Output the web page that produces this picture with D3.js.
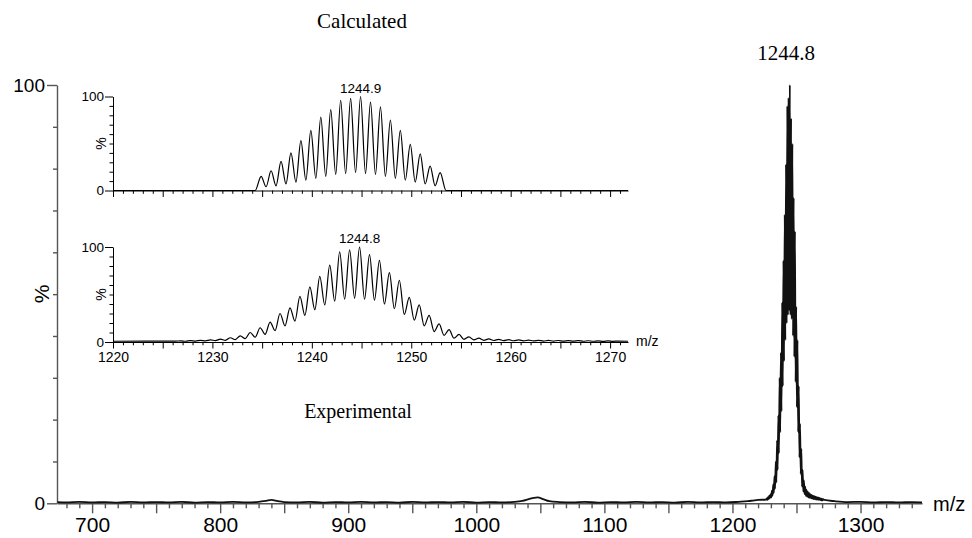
<!DOCTYPE html>
<html>
<head>
<meta charset="utf-8">
<script src="https://cdn.jsdelivr.net/npm/d3@7"></script>
<style>
  body { margin: 0; background: #fff; }
  svg { display: block; }
  .sans { font-family: "Liberation Sans", Arial, sans-serif; }
  .serif { font-family: "Liberation Serif", "Times New Roman", serif; }
</style>
</head>
<body>
<div id="chart"></div>
<script>
// calculated isotope pattern (inset, top)
const calcPeakMz = [1234.9, 1235.9, 1236.9, 1237.9, 1238.9, 1239.9, 1240.9, 1241.9, 1242.9, 1243.9,
  1244.9, 1245.9, 1246.9, 1247.9, 1248.9, 1249.9, 1250.9, 1251.9, 1252.9];
const calcPeakPct = [15, 21, 31, 40, 53, 64, 78, 86, 96, 98, 100, 94, 89, 75, 64, 49, 39, 26, 19];
const calcValleyMz = [1220, 1234.3, 1235.4, 1236.4, 1237.4, 1238.4, 1239.4, 1240.4, 1241.4, 1242.4, 1243.4,
  1244.4, 1245.4, 1246.4, 1247.4, 1248.4, 1249.4, 1250.4, 1251.4, 1252.4, 1253.5, 1271.8];
const calcValleyPct = [0, 0, 4, 5, 7, 9, 11, 13, 15, 17, 18, 19, 18, 17, 15, 13, 11, 9, 7, 5, 0, 0];

// experimental isotope pattern (inset, bottom + main peak)
const expPeakMz = [1226.8, 1227.8, 1228.8, 1229.8, 1230.8, 1231.8, 1232.8, 1233.8, 1234.8, 1235.8,
  1236.8, 1237.8, 1238.8, 1239.8, 1240.8, 1241.8, 1242.8, 1243.8, 1244.8, 1245.8,
  1246.8, 1247.8, 1248.8, 1249.8, 1250.8, 1251.8, 1252.8, 1253.8, 1254.8, 1255.8,
  1256.8, 1257.8, 1258.8, 1259.8, 1260.8, 1261.8, 1262.8, 1263.8, 1264.8, 1265.8,
  1266.8, 1267.8, 1268.8, 1269.8, 1270.8];
const expPeakPct = [1.2, 1.5, 1.8, 2.2, 3, 4.5, 6.5, 10, 15, 21,
  30, 36, 48, 58, 69, 81, 95, 97, 100, 92,
  86, 73, 65, 47, 39, 28, 19, 13, 8, 5.5,
  4, 3.2, 2.8, 2.5, 2.2, 2, 1.8, 1.7, 1.6, 1.5,
  1.4, 1.3, 1.2, 1.1, 1.0];
const expValleyMz = [1220, 1226.3, 1227.3, 1228.3, 1229.3, 1230.3, 1231.3, 1232.3, 1233.3, 1234.3,
  1235.3, 1236.3, 1237.3, 1238.3, 1239.3, 1240.3, 1241.3, 1242.3, 1243.3, 1244.3,
  1245.3, 1246.3, 1247.3, 1248.3, 1249.3, 1250.3, 1251.3, 1252.3, 1253.3, 1254.3,
  1255.3, 1256.3, 1257.3, 1258.3, 1259.3, 1260.3, 1261.3, 1262.3, 1263.3, 1264.3,
  1265.3, 1266.3, 1267.3, 1268.3, 1269.3, 1270.3, 1271.8];
const expValleyPct = [0.8, 0.9, 0.8, 1.0, 1.2, 1.4, 1.8, 2.5, 3.5, 5,
  8, 12, 17, 22, 28, 34, 39, 43, 45, 46,
  45, 44, 40, 35, 29, 23, 17, 11, 7, 4,
  2.8, 2.2, 1.8, 1.6, 1.4, 1.3, 1.2, 1.1, 1.0, 1.0,
  0.9, 0.9, 0.8, 0.8, 0.7, 0.7, 0.8];

// main spectrum baseline outside the isotope cluster
const baseMz = [673, 680, 690, 700, 710, 720, 730, 740, 750, 760,
  770, 780, 790, 800, 810, 820, 830, 836, 840, 845,
  850, 860, 870, 880, 890, 900, 910, 920, 930, 940,
  950, 960, 970, 980, 990, 1000, 1010, 1020, 1030, 1036,
  1041, 1045, 1048, 1052, 1057, 1065, 1075, 1085, 1095, 1105,
  1115, 1125, 1135, 1145, 1155, 1165, 1175, 1185, 1195, 1205,
  1212, 1217];
const basePct = [0.3, 0.2, 0.35, 0.2, 0.3, 0.15, 0.35, 0.2, 0.3, 0.2,
  0.35, 0.15, 0.3, 0.2, 0.35, 0.2, 0.35, 0.6, 0.8, 0.5,
  0.3, 0.2, 0.35, 0.15, 0.3, 0.2, 0.35, 0.2, 0.3, 0.15,
  0.35, 0.2, 0.3, 0.2, 0.35, 0.15, 0.3, 0.2, 0.35, 0.6,
  1.0, 1.3, 1.4, 1.0, 0.5, 0.3, 0.2, 0.35, 0.15, 0.3,
  0.2, 0.35, 0.2, 0.3, 0.15, 0.35, 0.2, 0.3, 0.2, 0.35,
  0.5, 0.7];
const baseRightMz = [1280, 1290, 1300, 1310, 1320, 1330, 1340, 1348];
const baseRightPct = [0.5, 0.3, 0.35, 0.2, 0.3, 0.2, 0.3, 0.2];

// tick labels
const mainXLabels = [700, 800, 900, 1000, 1100, 1200, 1300];
const mainYLabels = [0, 100];
const insetXLabels = [1220, 1230, 1240, 1250, 1260, 1270];
const insetYLabels = [0, 100];

function zipPoints(mz, pct) {
  return mz.map((m, i) => ({ mz: m, pct: pct[i] }));
}
function profile(peakMz, peakPct, valleyMz, valleyPct) {
  return zipPoints(peakMz, peakPct).concat(zipPoints(valleyMz, valleyPct))
    .sort((a, b) => a.mz - b.mz);
}

const calcData = profile(calcPeakMz, calcPeakPct, calcValleyMz, calcValleyPct);
const expData = profile(expPeakMz, expPeakPct, expValleyMz, expValleyPct);
const mainData = zipPoints(baseMz, basePct).concat(expData, zipPoints(baseRightMz, baseRightPct));

const svg = d3.select("#chart").append("svg")
  .attr("width", 972)
  .attr("height", 538);

// scales
const mainX = d3.scaleLinear().domain([672.6, 1348]).range([57, 922]);
const mainY = d3.scaleLinear().domain([0, 100]).range([503.3, 85]);
const insetX = d3.scaleLinear().domain([1220, 1271.8]).range([113, 628]);
const calcY = d3.scaleLinear().domain([0, 100]).range([190.5, 96.5]);
const expY = d3.scaleLinear().domain([0, 100]).range([342, 247]);

// ---- main axes ----
const mainXAxis = svg.append("g")
  .attr("class", "sans")
  .attr("transform", "translate(0," + mainY(0) + ")")
  .call(d3.axisBottom(mainX)
    .tickValues(d3.range(680, 1341, 10))
    .tickSize(10).tickSizeOuter(0).tickPadding(4)
    .tickFormat(d => mainXLabels.includes(d) ? d : ""));
mainXAxis.selectAll(".tick line").attr("y2", d => d % 50 === 0 ? 10 : 5);

const mainYAxis = svg.append("g")
  .attr("class", "sans")
  .attr("transform", "translate(" + mainX.range()[0] + ",0)")
  .call(d3.axisLeft(mainY)
    .tickValues(d3.range(0, 101, 10))
    .tickSize(10).tickSizeOuter(0).tickPadding(2)
    .tickFormat(d => mainYLabels.includes(d) ? d : ""));
mainYAxis.selectAll(".tick line").attr("x2", d => mainYLabels.includes(d) ? -10 : -4);

[mainXAxis, mainYAxis].forEach(g => {
  g.selectAll("path, line").attr("stroke", "#555").attr("stroke-width", 1.4);
  g.selectAll("text").attr("fill", "#000");
});
mainXAxis.selectAll("text").style("font-size", "21px");
mainYAxis.selectAll("text").style("font-size", "19px");

svg.append("text").attr("class", "sans")
  .attr("x", 933).attr("y", 511)
  .style("font-size", "20px")
  .text("m/z");
svg.append("text").attr("class", "sans")
  .attr("transform", "translate(49,294) rotate(-90)")
  .attr("text-anchor", "middle")
  .style("font-size", "21px")
  .text("%");

// ---- main spectrum ----
const mainLine = d3.line()
  .x(d => mainX(d.mz))
  .y(d => mainY(d.pct))
  .curve(d3.curveMonotoneX);
svg.append("path")
  .datum(mainData)
  .attr("fill", "none")
  .attr("stroke", "#111")
  .attr("stroke-width", 1.8)
  .attr("d", mainLine);

svg.append("text").attr("class", "serif")
  .attr("x", 786).attr("y", 60)
  .attr("text-anchor", "middle")
  .style("font-size", "21px")
  .text("1244.8");

// ---- insets ----
function drawInset(yScale, data, peakLabel, showLabels) {
  const xAxis = svg.append("g")
    .attr("class", "sans")
    .attr("transform", "translate(0," + yScale(0) + ")")
    .call(d3.axisBottom(insetX)
      .tickValues(d3.range(1220, 1272, 1))
      .tickSize(6.5).tickSizeOuter(0).tickPadding(3.5)
      .tickFormat(d => showLabels && insetXLabels.includes(d) ? d : ""));
  xAxis.selectAll(".tick line").attr("y2", d => d % 5 === 0 ? 6.5 : 3.3);

  const yAxis = svg.append("g")
    .attr("class", "sans")
    .attr("transform", "translate(" + insetX.range()[0] + ",0)")
    .call(d3.axisLeft(yScale)
      .tickValues(d3.range(0, 101, 10))
      .tickSize(8).tickSizeOuter(0).tickPadding(1)
      .tickFormat(d => insetYLabels.includes(d) ? d : ""));
  yAxis.selectAll(".tick line").attr("x2", d => insetYLabels.includes(d) ? -8 : -3.5);

  [xAxis, yAxis].forEach(g => {
    g.selectAll("path, line").attr("stroke", "#000").attr("stroke-width", 1);
    g.selectAll("text").attr("fill", "#000");
  });
  xAxis.selectAll("text").style("font-size", "14px");
  yAxis.selectAll("text").style("font-size", "13.5px");

  svg.append("text").attr("class", "sans")
    .attr("transform", "translate(106," + yScale(50) + ") rotate(-90)")
    .attr("text-anchor", "middle")
    .style("font-size", "14px")
    .text("%");

  const line = d3.line()
    .x(d => insetX(d.mz))
    .y(d => yScale(d.pct))
    .curve(d3.curveMonotoneX);
  svg.append("path")
    .datum(data)
    .attr("fill", "none")
    .attr("stroke", "#000")
    .attr("stroke-width", 1.2)
    .attr("d", line);

  svg.append("text").attr("class", "sans")
    .attr("x", insetX(peakLabel)).attr("y", yScale(100) - 4)
    .attr("text-anchor", "middle")
    .style("font-size", "13.5px")
    .text(peakLabel.toFixed(1));
}

drawInset(calcY, calcData, 1244.9, false);
drawInset(expY, expData, 1244.8, true);

svg.append("text").attr("class", "sans")
  .attr("x", 636).attr("y", expY(0) + 4)
  .style("font-size", "14px")
  .text("m/z");

svg.append("text").attr("class", "serif")
  .attr("x", 362).attr("y", 28)
  .attr("text-anchor", "middle")
  .style("font-size", "21px")
  .text("Calculated");
svg.append("text").attr("class", "serif")
  .attr("x", 358).attr("y", 418)
  .attr("text-anchor", "middle")
  .style("font-size", "20px")
  .text("Experimental");
</script>
</body>
</html>
